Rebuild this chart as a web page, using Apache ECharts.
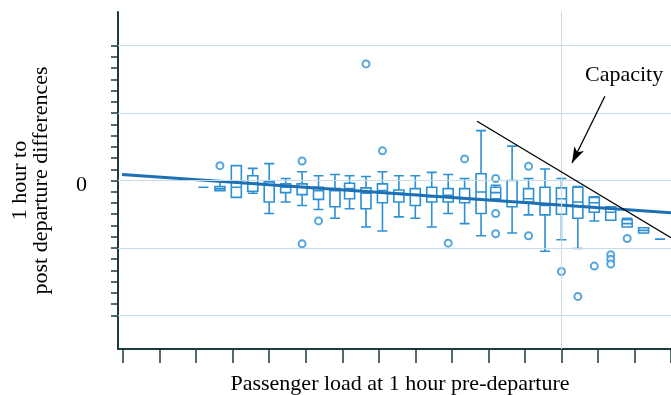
<!DOCTYPE html>
<html>
<head>
<meta charset="utf-8">
<script src="https://cdn.jsdelivr.net/npm/echarts@6/dist/echarts.min.js"></script>
<style>
html,body{margin:0;padding:0;background:#fff}
#chart{width:671px;height:395px}
</style>
</head>
<body>
<div id="chart"></div>
<script>
// passenger load bins (x) and box statistics (y)
var loads   = [22, 26.5, 31, 35.5, 40, 44.5, 49, 53.5, 58, 62, 66.5, 71, 75.5, 80, 84.5, 89, 93.5, 98, 102, 106.5, 111, 115.5, 120, 124.5, 129, 133.5, 138, 142.5, 147];
var lows    = [-1.0, -1.5, -2.5, -1.9, -4.9, -3.2, -3.7, -4.3, -5.6, -4.2, -6.9, -7.5, -5.4, -5.6, -6.9, -4.9, -6.4, -8.2, -2.8, -7.8, -5.1, -10.5, -8.8, -10.1, -6.0, -5.9, -6.9, -7.8, -8.7];
var q1s     = [-1.0, -1.5, -2.5, -1.6, -3.2, -1.8, -2.1, -2.8, -3.9, -2.7, -4.2, -3.3, -3.2, -3.7, -3.2, -3.2, -3.3, -4.9, -2.7, -3.9, -3.2, -5.1, -5.0, -5.6, -4.7, -5.9, -6.9, -7.8, -8.7];
var medians = [-1.0, -1.2, -1.0, -0.4, -0.7, -1.0, -1.0, -1.5, -1.5, -1.2, -1.9, -1.5, -1.9, -2.1, -2.4, -2.2, -2.7, -1.7, -1.8, -3.2, -2.7, -3.7, -2.7, -3.2, -3.3, -4.7, -6.4, -7.4, -8.7];
var q3s     = [-1.0, -0.9, 2.2, 0.7, -0.2, -0.5, -0.5, -1.0, -1.2, -0.4, -1.1, -0.5, -1.4, -1.2, -1.0, -1.2, -1.2, 1.0, -1.0, 0.0, -1.2, -1.0, -1.1, -1.0, -2.5, -3.9, -5.8, -7.0, -8.7];
var highs   = [-1.0, -0.1, 2.2, 1.8, 2.5, 0.3, 1.3, 0.7, 0.9, 0.7, 0.6, 1.3, 0.7, 0.7, 1.2, 0.9, 0.3, 7.4, -0.7, 5.1, 0.3, 1.7, 0.3, -0.9, -2.4, -3.9, -5.6, -7.0, -8.7];

var outlierLoads  = [26.5, 49, 49, 53.5, 66.5, 71, 89, 93.5, 102, 102, 102, 111, 111, 120, 124.5, 129, 133.5, 133.5, 133.5, 138];
var outlierValues = [2.2, 2.9, -9.4, -6.0, 17.3, 4.4, -9.3, 3.2, 0.3, -4.9, -7.9, 2.1, -8.2, -13.5, -17.2, -12.7, -11.0, -11.7, -12.4, -8.6];

var trendLoads  = [-0.3, 150];
var trendValues = [0.9, -4.8];

// capacity annotation
var capacityLoads  = [96.9, 150];
var capacityValues = [8.8, -8.5];
var arrowLoads  = [131.9, 122.9];
var arrowValues = [12.5, 2.6];

var xTicks = [0, 10, 20, 30, 40, 50, 60, 70, 80, 90, 100, 110, 120, 130, 140, 150];
var yMajor = [-20, -10, 0, 10, 20];
var yLabels = [0];
var xGrid = [120];

var yMinor = [];
for (var i = 0; i < yMajor.length - 1; i++) {
    for (var k = 0; k < 6; k++) {
        yMinor.push(yMajor[i] + (yMajor[i + 1] - yMajor[i]) * k / 6);
    }
}
yMinor.push(yMajor[yMajor.length - 1]);

var boxData = loads.map(function (x, i) {
    return [x, lows[i], q1s[i], medians[i], q3s[i], highs[i]];
});
var outlierData = outlierLoads.map(function (x, i) { return [x, outlierValues[i]]; });
var trendData = trendLoads.map(function (x, i) { return [x, trendValues[i]]; });

var axisColor = '#1d3a3e';
var boxColor = '#2b90d4';
var serif = '"Liberation Serif", "DejaVu Serif", serif';

var gridLines = yMajor.map(function (v) { return { yAxis: v }; })
    .concat(xGrid.map(function (v) { return { xAxis: v }; }));

var myChart = echarts.init(document.getElementById('chart'));
var option = {
    animation: false,
    grid: { left: 118, right: 0, top: 12, bottom: 46, outerBoundsMode: 'none' },
    xAxis: {
        type: 'value',
        min: -1.4,
        max: 150,
        name: 'Passenger load at 1 hour pre-departure',
        nameLocation: 'middle',
        nameGap: 24,
        nameTextStyle: { fontFamily: serif, fontSize: 22, color: '#000', padding: [0, 0, 0, 11] },
        axisLine: { show: true, onZero: false, lineStyle: { color: axisColor, width: 2 } },
        axisTick: { show: true, customValues: xTicks, length: 14, lineStyle: { color: axisColor, width: 1.5 } },
        axisLabel: { show: false },
        splitLine: { show: false }
    },
    yAxis: {
        type: 'value',
        min: -25,
        max: 25,
        name: '1 hour to\npost departure differences',
        nameLocation: 'middle',
        nameRotate: 90,
        nameGap: 66,
        nameTextStyle: { fontFamily: serif, fontSize: 22, color: '#000', lineHeight: 21 },
        axisLine: { show: true, onZero: false, lineStyle: { color: axisColor, width: 2 } },
        axisTick: { show: true, customValues: yMinor, length: 7, lineStyle: { color: axisColor, width: 1.5 } },
        axisLabel: { customValues: yLabels, margin: 31, verticalAlign: 'top', lineHeight: 10, fontFamily: serif, fontSize: 22, color: '#000' },
        splitLine: { show: false }
    },
    series: [
        {
            type: 'line',
            data: [],
            silent: true,
            markLine: {
                silent: true,
                symbol: ['none', 'none'],
                label: { show: false },
                lineStyle: { color: '#c6dbe8', type: 'solid', width: 1 },
                data: gridLines
            }
        },
        {
            type: 'boxplot',
            data: boxData,
            boxWidth: [10, 10],
            itemStyle: { color: '#fff', borderColor: boxColor, borderWidth: 1.6 }
        },
        {
            type: 'scatter',
            data: outlierData,
            symbol: 'circle',
            symbolSize: 7,
            itemStyle: { color: '#fff', borderColor: boxColor, borderWidth: 2 }
        },
        {
            type: 'line',
            data: trendData,
            showSymbol: false,
            lineStyle: { color: '#1e70b4', width: 3 }
        },
        {
            type: 'line',
            data: [],
            silent: true,
            markLine: {
                silent: true,
                symbol: ['none', 'none'],
                label: { show: false },
                lineStyle: { color: '#000', type: 'solid', width: 1.3 },
                data: [
                    [
                        { coord: [capacityLoads[0], capacityValues[0]] },
                        { coord: [capacityLoads[1], capacityValues[1]] }
                    ],
                    [
                        { coord: [arrowLoads[0], arrowValues[0]] },
                        { coord: [arrowLoads[1], arrowValues[1]], symbol: 'arrow', symbolSize: [8, 16] }
                    ]
                ]
            }
        }
    ],
    graphic: [
        {
            type: 'text',
            left: 585,
            top: 64,
            style: { text: 'Capacity', font: '22px ' + serif, fill: '#000' }
        }
    ]
};
myChart.setOption(option);
</script>
</body>
</html>
